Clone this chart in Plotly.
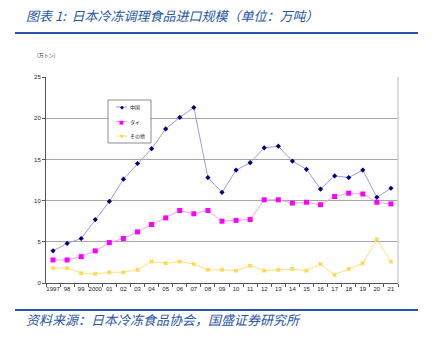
import plotly.graph_objects as go

# Japanese frozen prepared-food imports by origin (10k tonnes)
years = ["1997", "98", "99", "2000", "01", "02", "03", "04", "05", "06", "07", "08",
         "09", "10", "11", "12", "13", "14", "15", "16", "17", "18", "19", "20", "21"]
china = [3.9, 4.8, 5.4, 7.7, 9.9, 12.6, 14.5, 16.3, 18.7, 20.1, 21.3, 12.8,
         11.0, 13.7, 14.6, 16.4, 16.6, 14.8, 13.8, 11.4, 13.0, 12.8, 13.7, 10.4, 11.5]
thai = [2.8, 2.8, 3.2, 3.9, 4.9, 5.4, 6.2, 7.1, 7.9, 8.8, 8.4, 8.8,
        7.5, 7.6, 7.7, 10.1, 10.1, 9.7, 9.8, 9.5, 10.5, 10.9, 10.8, 9.8, 9.6]
other = [1.8, 1.8, 1.2, 1.1, 1.3, 1.3, 1.6, 2.6, 2.4, 2.6, 2.3, 1.6,
         1.6, 1.5, 2.1, 1.5, 1.6, 1.7, 1.5, 2.3, 1.0, 1.7, 2.4, 5.3, 2.6]
y_ticks = [0, 5, 10, 15, 20, 25]

series_names = ["中国", "タイ", "その他"]
line_colors = ["#9c9ce0", "#ff9cf5", "#ffe27a"]
marker_colors = ["#000080", "#ff00ff", "#ffd54a"]
marker_symbols = ["diamond", "square", "x"]
marker_sizes = [4, 5, 4]
legend_glyphs = ["◆", "■", "✱"]

title_text = "图表 1:  日本冷冻调理食品进口规模（单位：万吨）"
source_text = "资料来源：日本冷冻食品协会，国盛证券研究所"
blue = "#2756a6"
tick_font = dict(family="Liberation Sans, Arial", size=6, color="#222222")

W, H = 436, 338
L, R, T, B = 46, 38, 77, 55
PW, PH = W - L - R, H - T - B


def px(x):
    """Pixel column -> paper x."""
    return (x - L) / PW


def py(y):
    """Pixel row -> paper y."""
    return (H - B - y) / PH


fig = go.Figure()
for name, vals, lc, mc, sym, ms in zip(series_names, [china, thai, other], line_colors,
                                       marker_colors, marker_symbols, marker_sizes):
    fig.add_trace(go.Scatter(
        x=years, y=vals, name=name, mode="lines+markers",
        line=dict(color=lc, width=1),
        marker=dict(symbol=sym, size=ms, color=mc),
        showlegend=False,
    ))

shapes = [
    # right border of the plotting area
    dict(type="line", xref="paper", yref="paper", x0=1, x1=1, y0=0, y1=1,
         line=dict(color="#d0d0d0", width=1.5)),
    # rule under the title
    dict(type="line", xref="paper", yref="paper", x0=px(15), x1=px(418),
         y0=py(33), y1=py(33), line=dict(color=blue, width=2)),
    # rule above the source note
    dict(type="line", xref="paper", yref="paper", x0=px(15), x1=px(418),
         y0=py(310), y1=py(310), line=dict(color=blue, width=2)),
    # legend frame
    dict(type="rect", xref="paper", yref="paper", x0=px(108), x1=px(151),
         y0=py(143), y1=py(100), line=dict(color="#8c8c8c", width=1),
         fillcolor="white", layer="above"),
]

annotations = [
    dict(text="<i>" + title_text + "</i>", xref="paper", yref="paper",
         x=px(24), y=py(16), xanchor="left", yanchor="middle", showarrow=False,
         font=dict(family="Noto Sans CJK SC", size=13, color=blue)),
    dict(text="<i>" + source_text + "</i>", xref="paper", yref="paper",
         x=px(24), y=py(319), xanchor="left", yanchor="middle", showarrow=False,
         font=dict(family="Noto Sans CJK SC", size=13, color=blue)),
    dict(text="(万トン)", xref="paper", yref="paper",
         x=px(35), y=py(55), xanchor="left", yanchor="middle", showarrow=False,
         font=dict(family="Noto Sans CJK JP", size=5, color="#333333")),
]

# legend entries: sample line, glyph and label
for i, (name, lc, mc, glyph) in enumerate(zip(series_names, line_colors,
                                               marker_colors, legend_glyphs)):
    yy = 107 + i * 14.5
    shapes.append(dict(type="line", xref="paper", yref="paper", x0=px(116), x1=px(127),
                       y0=py(yy), y1=py(yy), line=dict(color=lc, width=1),
                       layer="above"))
    annotations.append(dict(text=glyph, xref="paper", yref="paper", x=px(121.5),
                            y=py(yy), xanchor="center", yanchor="middle",
                            showarrow=False,
                            font=dict(family="DejaVu Sans", size=5, color=mc)))
    annotations.append(dict(text=name, xref="paper", yref="paper", x=px(128),
                            y=py(yy), xanchor="left", yanchor="middle",
                            showarrow=False,
                            font=dict(family="Noto Sans CJK JP", size=5,
                                      color="#222222")))

fig.update_layout(
    width=W, height=H,
    margin=dict(l=L, r=R, t=T, b=B),
    paper_bgcolor="white", plot_bgcolor="white",
    showlegend=False,
    xaxis=dict(
        type="category", tickson="boundaries", range=[-0.5, 24.5],
        showgrid=False, ticks="outside", ticklen=3, tickcolor="#555555",
        showline=True, linecolor="#555555", linewidth=1,
        tickfont=tick_font, tickangle=0,
    ),
    yaxis=dict(
        range=[0, 25], tickvals=y_ticks, showgrid=True, gridcolor="#a6a6a6",
        gridwidth=1, zeroline=False, ticks="outside", ticklen=3,
        tickcolor="#555555", showline=True, linecolor="#555555", linewidth=1,
        tickfont=tick_font,
    ),
    shapes=shapes,
    annotations=annotations,
)

fig.write_html("out.html")
